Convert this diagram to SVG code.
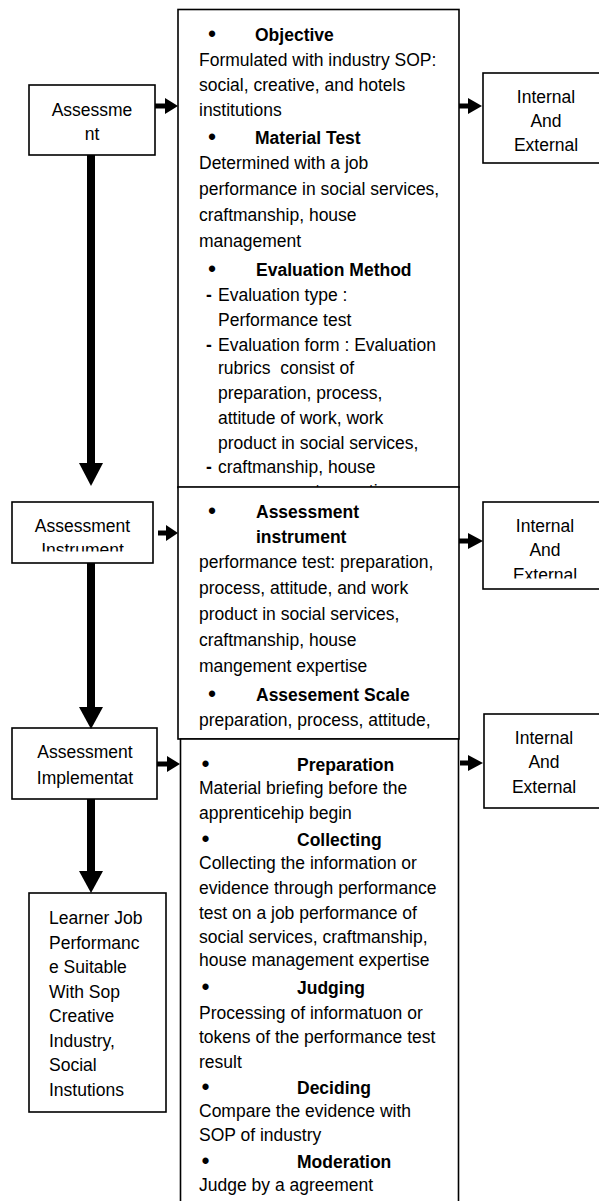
<svg xmlns="http://www.w3.org/2000/svg" width="599" height="1201" viewBox="0 0 599 1201">
<style>
.box{fill:#fff;stroke:#000;stroke-width:1.6}
.t{font-family:"Liberation Sans",Arial,sans-serif;font-size:17.5px;fill:#000}
.b{font-weight:bold}
.c{text-anchor:middle}
.bu{font-family:"Liberation Sans",Arial,sans-serif;font-size:23px;fill:#000}
.arr{fill:#000;stroke:none}
</style>
<defs>
<clipPath id="clipL2"><rect x="12" y="502" width="141" height="49.5"/></clipPath>
<clipPath id="clipR2"><rect x="483" y="502" width="130" height="76.5"/></clipPath>
</defs>
<rect width="599" height="1201" fill="#fff"/>

<g id="main-objective">
<rect class="box" x="178" y="9.5" width="281" height="478"/>
<text class="bu" x="208" y="42">•</text><text class="t b" x="255" y="41">Objective</text>
<text class="t" x="199" y="66">Formulated with industry SOP:</text>
<text class="t" x="199" y="91">social, creative, and hotels</text>
<text class="t" x="199" y="116">institutions</text>
<text class="bu" x="208" y="145">•</text><text class="t b" x="255" y="144">Material Test</text>
<text class="t" x="199" y="169">Determined with a job</text>
<text class="t" x="199" y="195">performance in social services,</text>
<text class="t" x="199" y="221">craftmanship, house</text>
<text class="t" x="199" y="247">management</text>
<text class="bu" x="208" y="277">•</text><text class="t b" x="256" y="276">Evaluation Method</text>
<text class="t b" x="206" y="301">-</text><text class="t" x="218" y="301">Evaluation type :</text>
<text class="t" x="218" y="326">Performance test</text>
<text class="t b" x="206" y="351">-</text><text class="t" x="218" y="351">Evaluation form : Evaluation</text>
<text class="t" x="218" y="374" xml:space="preserve">rubrics  consist of</text>
<text class="t" x="218" y="399">preparation, process,</text>
<text class="t" x="218" y="424">attitude of work, work</text>
<text class="t" x="218" y="449">product in social services,</text>
<text class="t b" x="206" y="473">-</text><text class="t" x="218" y="473">craftmanship, house</text>
<text class="t" x="218" y="497">management expertise</text>
</g>

<g id="main-instrument">
<rect class="box" x="178" y="487" width="281" height="252"/>
<text class="bu" x="208" y="519">•</text><text class="t b" x="256" y="518">Assessment</text>
<text class="t b" x="256" y="543">instrument</text>
<text class="t" x="199" y="568">performance test: preparation,</text>
<text class="t" x="199" y="594">process, attitude, and work</text>
<text class="t" x="199" y="620">product in social services,</text>
<text class="t" x="199" y="646">craftmanship, house</text>
<text class="t" x="199" y="672">mangement expertise</text>
<text class="bu" x="208" y="702">•</text><text class="t b" x="256" y="701">Assesement Scale</text>
<text class="t" x="199" y="726">preparation, process, attitude,</text>
</g>

<g id="main-implementation">
<rect class="box" x="180.5" y="739" width="278" height="480"/>
<text class="bu" x="201.5" y="772">•</text><text class="t b" x="297" y="771">Preparation</text>
<text class="t" x="199" y="794">Material briefing before the</text>
<text class="t" x="199" y="819">apprenticehip begin</text>
<text class="bu" x="201.5" y="847">•</text><text class="t b" x="297" y="846">Collecting</text>
<text class="t" x="199" y="869">Collecting the information or</text>
<text class="t" x="199" y="894">evidence through performance</text>
<text class="t" x="199" y="919">test on a job performance of</text>
<text class="t" x="199" y="943">social services, craftmanship,</text>
<text class="t" x="199" y="966">house management expertise</text>
<text class="bu" x="201.5" y="995">•</text><text class="t b" x="297" y="994">Judging</text>
<text class="t" x="199" y="1019">Processing of informatuon or</text>
<text class="t" x="199" y="1043">tokens of the performance test</text>
<text class="t" x="199" y="1068">result</text>
<text class="bu" x="201.5" y="1095">•</text><text class="t b" x="297" y="1094">Deciding</text>
<text class="t" x="199" y="1117">Compare the evidence with</text>
<text class="t" x="199" y="1141">SOP of industry</text>
<text class="bu" x="201.5" y="1169">•</text><text class="t b" x="297" y="1168">Moderation</text>
<text class="t" x="199" y="1191">Judge by a agreement</text>
</g>

<g id="assessment">
<rect class="box" x="29" y="85" width="126" height="70"/>
<text class="t c" x="92" y="116">Assessme</text>
<text class="t c" x="92" y="140">nt</text>
</g>

<g id="assessment-instrument">
<rect class="box" x="12" y="502" width="141" height="61"/>
<g clip-path="url(#clipL2)">
<text class="t c" x="82.5" y="532">Assessment</text>
<text class="t c" x="82.5" y="556">Instrument</text>
</g>
</g>

<g id="assessment-implementation">
<rect class="box" x="12" y="728" width="145" height="71"/>
<text class="t c" x="85" y="758">Assessment</text>
<text class="t c" x="85" y="784">Implementat</text>
</g>

<g id="learner">
<rect class="box" x="29" y="893" width="137" height="219"/>
<text class="t" x="49" y="924">Learner Job</text>
<text class="t" x="49" y="948.5">Performanc</text>
<text class="t" x="49" y="973">e Suitable</text>
<text class="t" x="49" y="997.5">With Sop</text>
<text class="t" x="49" y="1022">Creative</text>
<text class="t" x="49" y="1046.5">Industry,</text>
<text class="t" x="49" y="1071">Social</text>
<text class="t" x="49" y="1095.5">Instutions</text>
</g>

<g id="internal-external-1">
<rect class="box" x="483" y="73" width="130" height="90"/>
<text class="t c" x="546" y="103">Internal</text>
<text class="t c" x="546" y="127">And</text>
<text class="t c" x="546" y="151">External</text>
</g>

<g id="internal-external-2">
<rect class="box" x="483" y="502" width="130" height="87"/>
<g clip-path="url(#clipR2)">
<text class="t c" x="545" y="532">Internal</text>
<text class="t c" x="545" y="556">And</text>
<text class="t c" x="545" y="581">External</text>
</g>
</g>

<g id="internal-external-3">
<rect class="box" x="484" y="714" width="130" height="94"/>
<text class="t c" x="544" y="744">Internal</text>
<text class="t c" x="544" y="768">And</text>
<text class="t c" x="544" y="793">External</text>
</g>

<g id="connectors">
<rect class="arr" x="87" y="155" width="8" height="309"/>
<polygon class="arr" points="79,463 103,463 91,486"/>
<rect class="arr" x="87" y="563" width="8" height="146"/>
<polygon class="arr" points="79,707 103,707 91,729"/>
<rect class="arr" x="87" y="799" width="8" height="74"/>
<polygon class="arr" points="79,871 103,871 91,893"/>

<rect class="arr" x="155" y="103.5" width="11" height="5"/>
<polygon class="arr" points="165,98 165,114 178,106"/>
<rect class="arr" x="459" y="103.5" width="10" height="5"/>
<polygon class="arr" points="468,98 468,114 482,106"/>

<rect class="arr" x="158" y="530.5" width="9" height="5"/>
<polygon class="arr" points="166,525 166,541 178,533"/>
<rect class="arr" x="459" y="538.5" width="10" height="5"/>
<polygon class="arr" points="468,533 468,549 483,541"/>

<rect class="arr" x="157" y="761.5" width="11" height="5"/>
<polygon class="arr" points="167,756 167,772 180,764"/>
<rect class="arr" x="460" y="760.5" width="9" height="5"/>
<polygon class="arr" points="468,755 468,771 483,763"/>
</g>
</svg>
